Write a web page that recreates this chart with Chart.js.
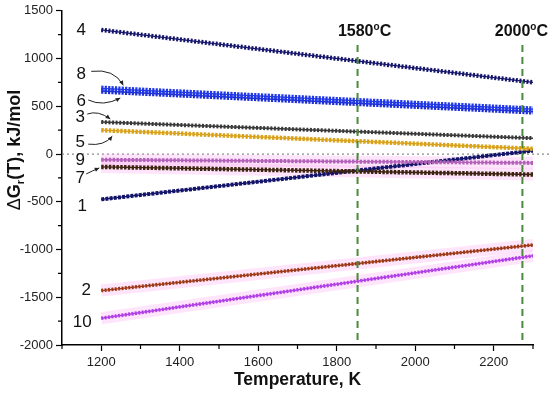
<!DOCTYPE html>
<html>
<head>
<meta charset="utf-8">
<script src="https://cdn.jsdelivr.net/npm/chart.js@4/dist/chart.umd.min.js"></script>
<style>
  html, body { margin: 0; padding: 0; background: #fff; }
  #wrap { width: 550px; height: 393px; }
</style>
</head>
<body>
<div id="wrap"><canvas id="graph"></canvas></div>
<script>
// temperatures (K) where each curve starts and ends
const temps = [1200, 2300]

// ΔG_r(T), kJ/mol at those temperatures
const curve1 = [-475, 35]
const curve2 = [-1430, -952]
const curve3 = [335, 166]
const curve4 = [1300, 750]
const curve5 = [250, 55]
const curve6 = [660, 442]
const curve7 = [-135, -215]
const curve8 = [688, 470]
const curve9 = [-60, -93]
const curve10 = [-1720, -1066]

// marked temperatures, °C
const markC = [1580, 2000]

const xTicks = [1200, 1400, 1600, 1800, 2000, 2200]
const xMinor = [1100, 1300, 1500, 1700, 1900, 2100, 2300]
const yTicks = [-2000, -1500, -1000, -500, 0, 500, 1000, 1500]
const yMinor = [-1750, -1250, -750, -250, 250, 750, 1250]

const FONT = '"Liberation Sans", Arial, sans-serif'

const series = [
  { tag: '4', values: curve4, color: '#16166c', width: 4.5, dash: [2, 1.6] },
  { tag: '8', values: curve8, color: '#2038e6', width: 5.5, dash: [2.2, 1.2] },
  { tag: '6', values: curve6, color: '#1c2ed4', width: 5.5, dash: [2.2, 1.2] },
  { tag: '3', values: curve3, color: '#3a3a3a', width: 4, dash: [2, 1.6] },
  { tag: '5', values: curve5, color: '#d8a21c', width: 4.5, dash: [2.4, 1.4] },
  { tag: '9', values: curve9, color: '#b262b8', width: 4, dash: [2.4, 1.4], halo: true },
  { tag: '7', values: curve7, color: '#3c2410', width: 4.5, dash: [2.4, 1.4], halo: true },
  { tag: '1', values: curve1, color: '#14146a', width: 4, dash: [3, 1.2] },
  { tag: '2', values: curve2, color: '#9c3a18', width: 3.6, dash: [2, 1.4], halo: true },
  { tag: '10', values: curve10, color: '#b040e6', width: 3.6, dash: [2, 1.4], halo: true }
]

// label offsets (px) from each curve start, and arrows [x0,y0,cx,cy,x1,y1] relative to the label
const tagLayout = {
  '4': { dx: -20, dy: 0 },
  '8': { dx: -20, dy: -14, arrow: [10, -3, 33, -6, 42, 11] },
  '6': { dx: -20, dy: 10, arrow: [7, -1, 22, 6, 39, -3] },
  '3': { dx: -21, dy: -5, arrow: [7, -3, 18, -7, 30, 2] },
  '5': { dx: -21, dy: 12, arrow: [8, 2, 24, 4, 32, -6] },
  '9': { dx: -21, dy: 1 },
  '7': { dx: -21, dy: 11, arrow: [6, -4, 12, -7, 19, -10] },
  '1': { dx: -19, dy: 7 },
  '2': { dx: -15, dy: 0 },
  '10': { dx: -19, dy: 4 }
}

const pts = values => temps.map((t, i) => ({ x: t, y: values[i] }))

const datasets = []
series.forEach(s => {
  if (s.halo) {
    datasets.push({ data: pts(s.values), borderColor: 'rgba(255,160,240,0.28)', borderWidth: 12, pointRadius: 0, order: 5 })
  }
  datasets.push({ data: pts(s.values), borderColor: s.color, borderWidth: 1.4, pointRadius: 0, order: 1 })
  datasets.push({ data: pts(s.values), borderColor: s.color, borderWidth: s.width, borderDash: s.dash, pointRadius: 0, order: 1 })
})

function arrowHead(ctx, x0, y0, x1, y1) {
  const a = Math.atan2(y1 - y0, x1 - x0)
  const L = 5
  ctx.beginPath()
  ctx.moveTo(x1, y1)
  ctx.lineTo(x1 - L * Math.cos(a - 0.45), y1 - L * Math.sin(a - 0.45))
  ctx.lineTo(x1 - L * Math.cos(a + 0.45), y1 - L * Math.sin(a + 0.45))
  ctx.closePath()
  ctx.fill()
}

const notes = {
  id: 'notes',
  beforeDatasetsDraw(chart) {
    const { ctx, chartArea, scales: { y } } = chart
    const py = y.getPixelForValue(0)
    ctx.save()
    ctx.strokeStyle = '#8a8a8a'
    ctx.lineWidth = 1.2
    ctx.setLineDash([2, 3])
    ctx.beginPath()
    ctx.moveTo(chartArea.left, py)
    ctx.lineTo(chart.width, py)
    ctx.stroke()
    ctx.restore()
  },
  afterDatasetsDraw(chart) {
    const { ctx, chartArea, scales: { x, y } } = chart
    ctx.save()

    // dashed marks at 1580 °C and 2000 °C
    markC.forEach((c, i) => {
      const px = x.getPixelForValue(c + 273)
      ctx.strokeStyle = '#4a8a3c'
      ctx.lineWidth = 2
      ctx.setLineDash([7, 5])
      ctx.beginPath()
      ctx.moveTo(px, 45)
      ctx.lineTo(px, chartArea.bottom)
      ctx.stroke()
      ctx.setLineDash([])

      const big = 'bold 16px ' + FONT
      const small = 'bold 10px ' + FONT
      ctx.font = big
      const w1 = ctx.measureText(String(c)).width
      const wC = ctx.measureText('C').width
      ctx.font = small
      const wo = ctx.measureText('o').width
      const total = w1 + wo + wC
      let sx = px + (i === 0 ? 7 : -1) - total / 2
      const base = 36
      ctx.fillStyle = '#111'
      ctx.textAlign = 'left'
      ctx.textBaseline = 'alphabetic'
      ctx.font = big
      ctx.fillText(String(c), sx, base)
      ctx.font = small
      ctx.fillText('o', sx + w1, base - 6)
      ctx.font = big
      ctx.fillText('C', sx + w1 + wo, base)
    })

    // curve numbers and arrows
    ctx.font = '17px ' + FONT
    ctx.textAlign = 'center'
    ctx.textBaseline = 'middle'
    series.forEach(s => {
      const lay = tagLayout[s.tag]
      const lx = x.getPixelForValue(temps[0]) + lay.dx
      const ly = y.getPixelForValue(s.values[0]) + lay.dy
      ctx.fillStyle = '#111'
      ctx.fillText(s.tag, lx, ly)
      if (lay.arrow) {
        const [x0, y0, cx, cy, x1, y1] = lay.arrow
        ctx.strokeStyle = '#222'
        ctx.lineWidth = 1
        ctx.beginPath()
        ctx.moveTo(lx + x0, ly + y0)
        ctx.quadraticCurveTo(lx + cx, ly + cy, lx + x1, ly + y1)
        ctx.stroke()
        ctx.fillStyle = '#222'
        arrowHead(ctx, lx + cx, ly + cy, lx + x1, ly + y1)
      }
    })
    ctx.restore()
  },
  afterDraw(chart) {
    const { ctx, chartArea, scales: { x, y } } = chart
    ctx.save()
    // minor ticks
    ctx.strokeStyle = '#000'
    ctx.lineWidth = 1.2
    ctx.beginPath()
    xMinor.forEach(v => {
      const px = x.getPixelForValue(v)
      ctx.moveTo(px, chartArea.bottom)
      ctx.lineTo(px, chartArea.bottom + 4)
    })
    yMinor.forEach(v => {
      const py = y.getPixelForValue(v)
      ctx.moveTo(chartArea.left, py)
      ctx.lineTo(chartArea.left - 4, py)
    })
    ctx.stroke()

    // y title with subscript r
    ctx.translate(15, 150)
    ctx.rotate(-Math.PI / 2)
    ctx.fillStyle = '#111'
    ctx.textBaseline = 'middle'
    ctx.textAlign = 'left'
    const fD = '18px ' + FONT
    const fB = 'bold 18px ' + FONT
    const fS = 'bold 11px ' + FONT
    ctx.font = fD
    const wD = ctx.measureText('Δ').width
    ctx.font = fB
    const wG = ctx.measureText('G').width
    const wRest = ctx.measureText('(T), kJ/mol').width
    ctx.font = fS
    const wr = ctx.measureText('r').width
    let sx = -(wD + wG + wr + wRest) / 2
    ctx.font = fD
    ctx.fillText('Δ', sx, 0)
    sx += wD
    ctx.font = fB
    ctx.fillText('G', sx, 0)
    sx += wG
    ctx.font = fS
    ctx.fillText('r', sx, 6)
    sx += wr
    ctx.font = fB
    ctx.fillText('(T), kJ/mol', sx, 0)
    ctx.restore()
  }
}

new Chart(document.getElementById('graph'), {
  type: 'line',
  data: { datasets },
  plugins: [notes],
  options: {
    responsive: true,
    maintainAspectRatio: false,
    animation: false,
    layout: { padding: { top: 8, right: 17, left: 0, bottom: 0 } },
    plugins: { legend: { display: false }, tooltip: { enabled: false } },
    scales: {
      x: {
        type: 'linear',
        min: 1100,
        max: 2300,
        afterBuildTicks: scale => { scale.ticks = xTicks.map(v => ({ value: v })) },
        afterFit: scale => { scale.height = 48 },
        grid: { drawOnChartArea: false, tickLength: 6, tickColor: '#000', tickWidth: 1.2 },
        border: { color: '#000', width: 1.5 },
        ticks: { font: { size: 13, family: FONT }, color: '#222', padding: 4, maxRotation: 0, callback: v => String(v) },
        title: { display: true, text: 'Temperature, K', font: { size: 17.5, weight: 'bold', family: FONT }, color: '#111', padding: { top: 0, bottom: 2 } }
      },
      y: {
        min: -2000,
        max: 1500,
        afterBuildTicks: scale => { scale.ticks = yTicks.map(v => ({ value: v })) },
        afterFit: scale => { scale.width = 62 },
        grid: { drawOnChartArea: false, tickLength: 6, tickColor: '#000', tickWidth: 1.2 },
        border: { color: '#000', width: 1.5 },
        ticks: { font: { size: 13, family: FONT }, color: '#222', padding: 3, callback: v => String(v) }
      }
    }
  }
})
</script>
</body>
</html>
